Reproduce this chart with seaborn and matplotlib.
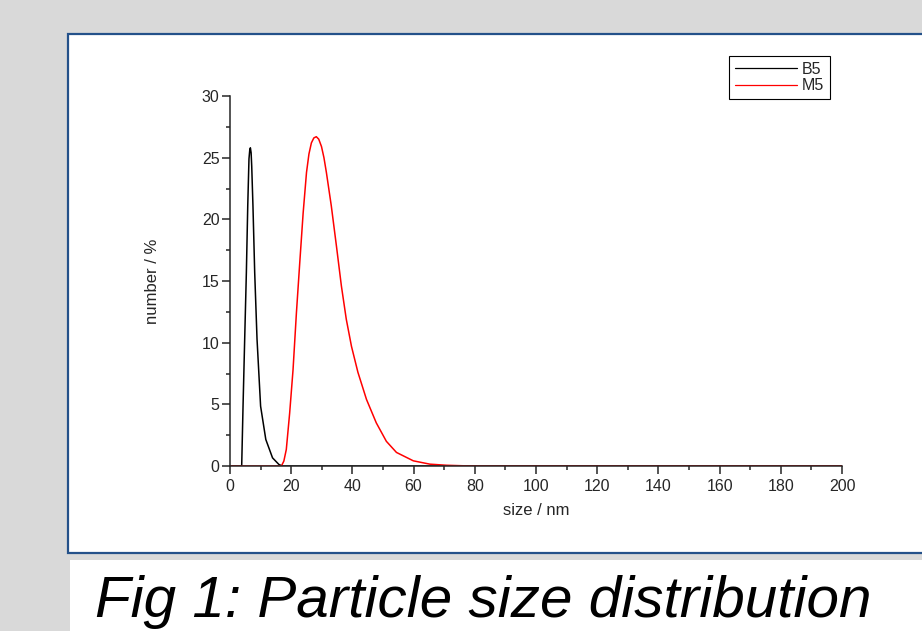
import matplotlib
matplotlib.use("Agg")
import matplotlib.pyplot as plt
from matplotlib.patches import Rectangle
from matplotlib.ticker import MultipleLocator
import pandas as pd
import seaborn as sns

# values
b5_size = [0, 3.82, 4.26, 4.8, 5.35, 5.8, 6.2, 6.45, 6.66, 6.9, 7.1, 7.5, 8.07, 8.83, 10.0, 11.7, 13.9,
           16.0, 17.1, 200]
b5_number = [0, 0, 4.85, 10.3, 15.7, 21.1, 24.9, 25.6, 25.8, 25.4, 24.3, 21.1, 15.7, 10.3, 4.85, 2.15,
             0.66, 0.12, 0, 0]

m5_size = [0, 16.8, 17.6, 18.4, 19.5, 20.6, 21.7, 22.8, 23.9, 25.0, 25.8, 26.6, 27.4, 28.2, 29.0, 29.9,
           30.7, 31.5, 33.1, 34.8, 36.4, 38.0, 39.7, 41.8, 44.6, 47.8, 51.1, 54.4, 59.9, 65.3, 70.7,
           76.0, 81.0, 200]
m5_number = [0, 0, 0.4, 1.34, 4.3, 7.8, 12.4, 16.5, 20.5, 23.8, 25.3, 26.2, 26.6, 26.7, 26.5, 25.9,
             25.0, 23.8, 21.1, 17.8, 14.6, 11.9, 9.7, 7.6, 5.4, 3.5, 2.0, 1.1, 0.42, 0.15, 0.06,
             0.02, 0, 0]

series_names = ["B5", "M5"]
series_colors = ["black", "red"]
caption = "Fig 1: Particle size distribution"

df = pd.concat([
    pd.DataFrame({"size": b5_size, "number": b5_number, "sample": "B5"}),
    pd.DataFrame({"size": m5_size, "number": m5_number, "sample": "M5"}),
])

sns.set_style("ticks")
plt.rcParams["font.family"] = ["Liberation Sans", "DejaVu Sans"]

fig = plt.figure(figsize=(9.22, 6.31), dpi=100)
fig.patch.set_facecolor("#d9d9d9")

# slide panel and caption box
fig.patches.append(Rectangle((68 / 922, 1 - 553 / 631), 1.0, (553 - 34) / 631, transform=fig.transFigure,
                             facecolor="white", edgecolor="#24518a", linewidth=1.6, zorder=-10))
fig.patches.append(Rectangle((70 / 922, 0), 1.0, (631 - 560) / 631, transform=fig.transFigure,
                             facecolor="white", edgecolor="none", zorder=-10))
fig.text(95 / 922, 14 / 631, caption, fontsize=42, style="italic", color="black", ha="left", va="baseline")

ax = fig.add_axes([230 / 922, 1 - 466 / 631, 612 / 922, 370 / 631])
ax.set_facecolor("none")

sns.lineplot(data=df, x="size", y="number", hue="sample", hue_order=series_names,
             palette=dict(zip(series_names, series_colors)), linewidth=1.1, ax=ax, legend=False,
             estimator=None, sort=False)

ax.set_xlim(0, 200)
ax.set_ylim(0, 30)
ax.xaxis.set_major_locator(MultipleLocator(20))
ax.xaxis.set_minor_locator(MultipleLocator(10))
ax.yaxis.set_major_locator(MultipleLocator(5))
ax.yaxis.set_minor_locator(MultipleLocator(2.5))
ax.tick_params(which="major", length=5.5, width=1.1, labelsize=11.5, direction="out")
ax.tick_params(which="minor", length=3, width=1.1, direction="out")
ax.tick_params(axis="y", pad=2)
ax.tick_params(axis="x", pad=4)
sns.despine(ax=ax)
for s in ["left", "bottom"]:
    ax.spines[s].set_linewidth(1.1)

ax.set_xlabel("size / nm", fontsize=12, labelpad=6)
ax.set_ylabel("number / %", fontsize=12, labelpad=30)

handles = [plt.Line2D([], [], color=c, lw=0.9) for c in series_colors]
leg = fig.legend(handles, series_names, loc="upper right", bbox_to_anchor=(830 / 922, 1 - 56 / 631),
                 frameon=True, fancybox=False, edgecolor="black", fontsize=11.5, handlelength=3.9,
                 handletextpad=0.3, labelspacing=0.1, borderpad=0.35, borderaxespad=0,
                 framealpha=1)
leg.get_frame().set_linewidth(0.8)

fig.savefig("out.png", dpi=100, facecolor=fig.get_facecolor())
